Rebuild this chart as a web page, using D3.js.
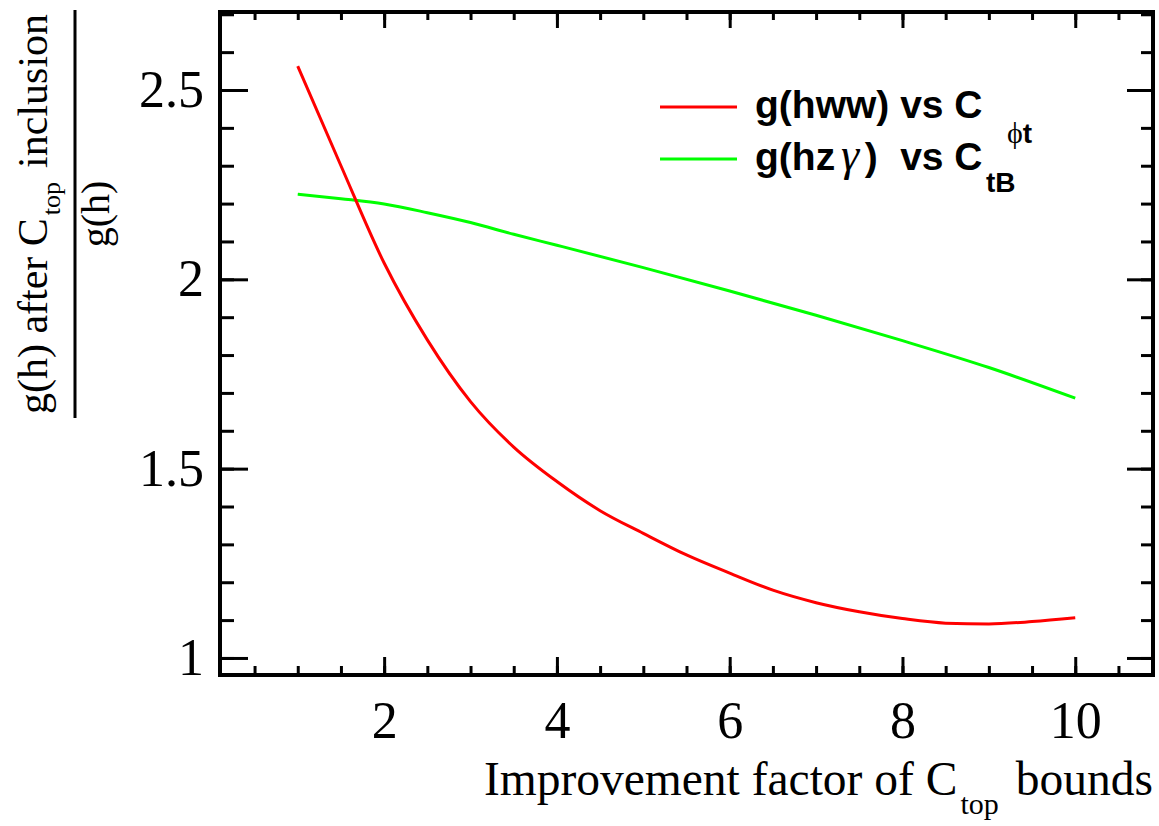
<!DOCTYPE html>
<html>
<head>
<meta charset="utf-8">
<script src="https://cdn.jsdelivr.net/npm/d3@7"></script>
<style>
  html, body { margin: 0; padding: 0; background: #fff; }
  svg { display: block; }
</style>
</head>
<body>
<svg id="chart" width="1159" height="826"></svg>
<script>
// ---- data ----
const hwwX = [1, 1.5, 2, 2.5, 3, 3.5, 4, 4.5, 5, 5.5, 6, 6.5, 7, 7.5, 8, 8.5, 9, 9.5, 10];
const hwwY = [2.563, 2.300, 2.043, 1.840, 1.677, 1.557, 1.466, 1.389, 1.329, 1.272, 1.224, 1.179, 1.146, 1.122, 1.104, 1.092, 1.090, 1.096, 1.106];
const hzgX = [1, 1.5, 2, 2.5, 3, 3.5, 4, 5, 6, 7, 8, 9, 10];
const hzgY = [2.225, 2.213, 2.199, 2.176, 2.150, 2.119, 2.090, 2.031, 1.969, 1.905, 1.838, 1.767, 1.686];
const xMajorTicks = [2, 4, 6, 8, 10];
const xMinorTicks = d3.range(0.5, 10.51, 0.5);
const yMajorTicks = [1, 1.5, 2, 2.5];
const yMinorTicks = d3.range(1.0, 2.701, 0.1);
const xDomain = [0.1, 10.9];
const yDomain = [0.955, 2.706];

const SERIF = "'Liberation Serif', 'Times New Roman', serif";
const SANS = "'Liberation Sans', Arial, sans-serif";

// ---- layout ----
const L = 220, R = 1153, T = 12, B = 675;
const svg = d3.select("#chart");
svg.append("rect").attr("width", 1159).attr("height", 826).attr("fill", "#fff");

const x = d3.scaleLinear().domain(xDomain).range([L, R]);
const y = d3.scaleLinear().domain(yDomain).range([B, T]);

function styleAxis(g, w) {
  g.select(".domain").remove();
  g.selectAll(".tick line").attr("stroke", "#000").attr("stroke-width", w);
}
function styleLabels(g) {
  g.selectAll("text").attr("font-family", SERIF).attr("font-size", 52).attr("fill", "#000");
}

// bottom
svg.append("g").attr("transform", `translate(0,${B})`)
  .call(d3.axisBottom(x).tickValues(xMinorTicks).tickSizeInner(-9).tickSizeOuter(0).tickFormat(""))
  .call(g => styleAxis(g, 3));
svg.append("g").attr("transform", `translate(0,${B})`)
  .call(d3.axisBottom(x).tickValues(xMajorTicks).tickSizeInner(-18).tickSizeOuter(0).tickPadding(26).tickFormat(d3.format("d")))
  .call(g => styleAxis(g, 3))
  .call(styleLabels);
// top
svg.append("g").attr("transform", `translate(0,${T})`)
  .call(d3.axisTop(x).tickValues(xMinorTicks).tickSizeInner(-8).tickSizeOuter(0).tickFormat(""))
  .call(g => styleAxis(g, 3));
svg.append("g").attr("transform", `translate(0,${T})`)
  .call(d3.axisTop(x).tickValues(xMajorTicks).tickSizeInner(-16).tickSizeOuter(0).tickFormat(""))
  .call(g => styleAxis(g, 3));
// left
svg.append("g").attr("transform", `translate(${L},0)`)
  .call(d3.axisLeft(y).tickValues(yMinorTicks).tickSizeInner(-14).tickSizeOuter(0).tickFormat(""))
  .call(g => styleAxis(g, 3));
svg.append("g").attr("transform", `translate(${L},0)`)
  .call(d3.axisLeft(y).tickValues(yMajorTicks).tickSizeInner(-28).tickSizeOuter(0).tickPadding(16)
    .tickFormat(d => Number.isInteger(d) ? d3.format("d")(d) : d3.format(".1f")(d)))
  .call(g => styleAxis(g, 3))
  .call(styleLabels);
// right
svg.append("g").attr("transform", `translate(${R},0)`)
  .call(d3.axisRight(y).tickValues(yMinorTicks).tickSizeInner(-12).tickSizeOuter(0).tickFormat(""))
  .call(g => styleAxis(g, 3));
svg.append("g").attr("transform", `translate(${R},0)`)
  .call(d3.axisRight(y).tickValues(yMajorTicks).tickSizeInner(-26).tickSizeOuter(0).tickFormat(""))
  .call(g => styleAxis(g, 3));

// frame
svg.append("rect").attr("x", L).attr("y", T).attr("width", R - L).attr("height", B - T)
  .attr("fill", "none").attr("stroke", "#000").attr("stroke-width", 4);

// ---- curves ----
const line = d3.line().x(d => x(d[0])).y(d => y(d[1])).curve(d3.curveMonotoneX);
svg.append("path").datum(hzgX.map((v, i) => [v, hzgY[i]]))
  .attr("d", line).attr("fill", "none").attr("stroke", "#00ff00").attr("stroke-width", 3);
svg.append("path").datum(hwwX.map((v, i) => [v, hwwY[i]]))
  .attr("d", line).attr("fill", "none").attr("stroke", "#ff0000").attr("stroke-width", 3);

// ---- legend ----
const leg = [
  { color: "#ff0000", y: 107 },
  { color: "#00ff00", y: 159 }
];
leg.forEach(l => svg.append("line").attr("x1", 660).attr("x2", 737).attr("y1", l.y).attr("y2", l.y)
  .attr("stroke", l.color).attr("stroke-width", 3));

const t1 = svg.append("text").attr("x", 755).attr("y", 118).attr("font-family", SANS)
  .attr("font-size", 39).attr("font-weight", "bold").attr("fill", "#000");
const t1a = t1.append("tspan").text("g(hww) vs C");
const s1 = svg.append("text").attr("x", 1007).attr("y", 143).attr("font-size", 30).attr("fill", "#000");
s1.append("tspan").attr("font-family", SERIF).text("ϕ");
s1.append("tspan").attr("font-family", SANS).attr("font-weight", "bold").attr("font-size", 28).text("t");

const t2 = svg.append("text").attr("x", 755).attr("y", 170).attr("font-family", SANS)
  .attr("font-size", 39).attr("font-weight", "bold").attr("fill", "#000");
const p1 = t2.append("tspan").text("g(hz");
const p2 = t2.append("tspan").attr("font-family", SERIF).attr("font-weight", "normal")
  .attr("font-style", "italic").attr("font-size", 46).text("γ");
const p3 = t2.append("tspan").text(")");
const p4 = t2.append("tspan").text(" vs C");
// align the two "C" glyphs as in the original legend
const extra = t1a.node().getComputedTextLength() -
  [p1, p2, p3, p4].reduce((s, p) => s + p.node().getComputedTextLength(), 0);
if (extra > 0) {
  p2.attr("dx", extra * 0.25);
  p3.attr("dx", extra * 0.25);
  p4.attr("dx", extra * 0.5);
}
svg.append("text").attr("x", 986).attr("y", 192).attr("font-family", SANS).attr("font-weight", "bold")
  .attr("font-size", 28).attr("fill", "#000").text("tB");

// ---- axis titles ----
const xt = svg.append("text").attr("x", R).attr("y", 795).attr("text-anchor", "end")
  .attr("font-family", SERIF).attr("font-size", 47.5).attr("fill", "#000");
xt.append("tspan").text("Improvement factor of C");
xt.append("tspan").attr("dy", 19).attr("dx", 3).attr("font-size", 30).text("top");
xt.append("tspan").attr("dy", -19).attr("dx", 17).text("bounds");

const yt = svg.append("g").attr("transform", "translate(47,214) rotate(-90)");
const num = yt.append("text").attr("x", 0).attr("y", 0).attr("text-anchor", "middle")
  .attr("font-family", SERIF).attr("font-size", 42).attr("fill", "#000");
num.append("tspan").text("g(h) after C");
num.append("tspan").attr("dy", 13).attr("dx", 3).attr("font-size", 26).text("top");
num.append("tspan").attr("dy", -13).attr("dx", 14).text("inclusion");
svg.append("line").attr("x1", 75).attr("x2", 75).attr("y1", 10).attr("y2", 418)
  .attr("stroke", "#000").attr("stroke-width", 3);
svg.append("g").attr("transform", "translate(109,214) rotate(-90)")
  .append("text").attr("text-anchor", "middle").attr("font-family", SERIF)
  .attr("font-size", 40).attr("fill", "#000").text("g(h)");
</script>
</body>
</html>
